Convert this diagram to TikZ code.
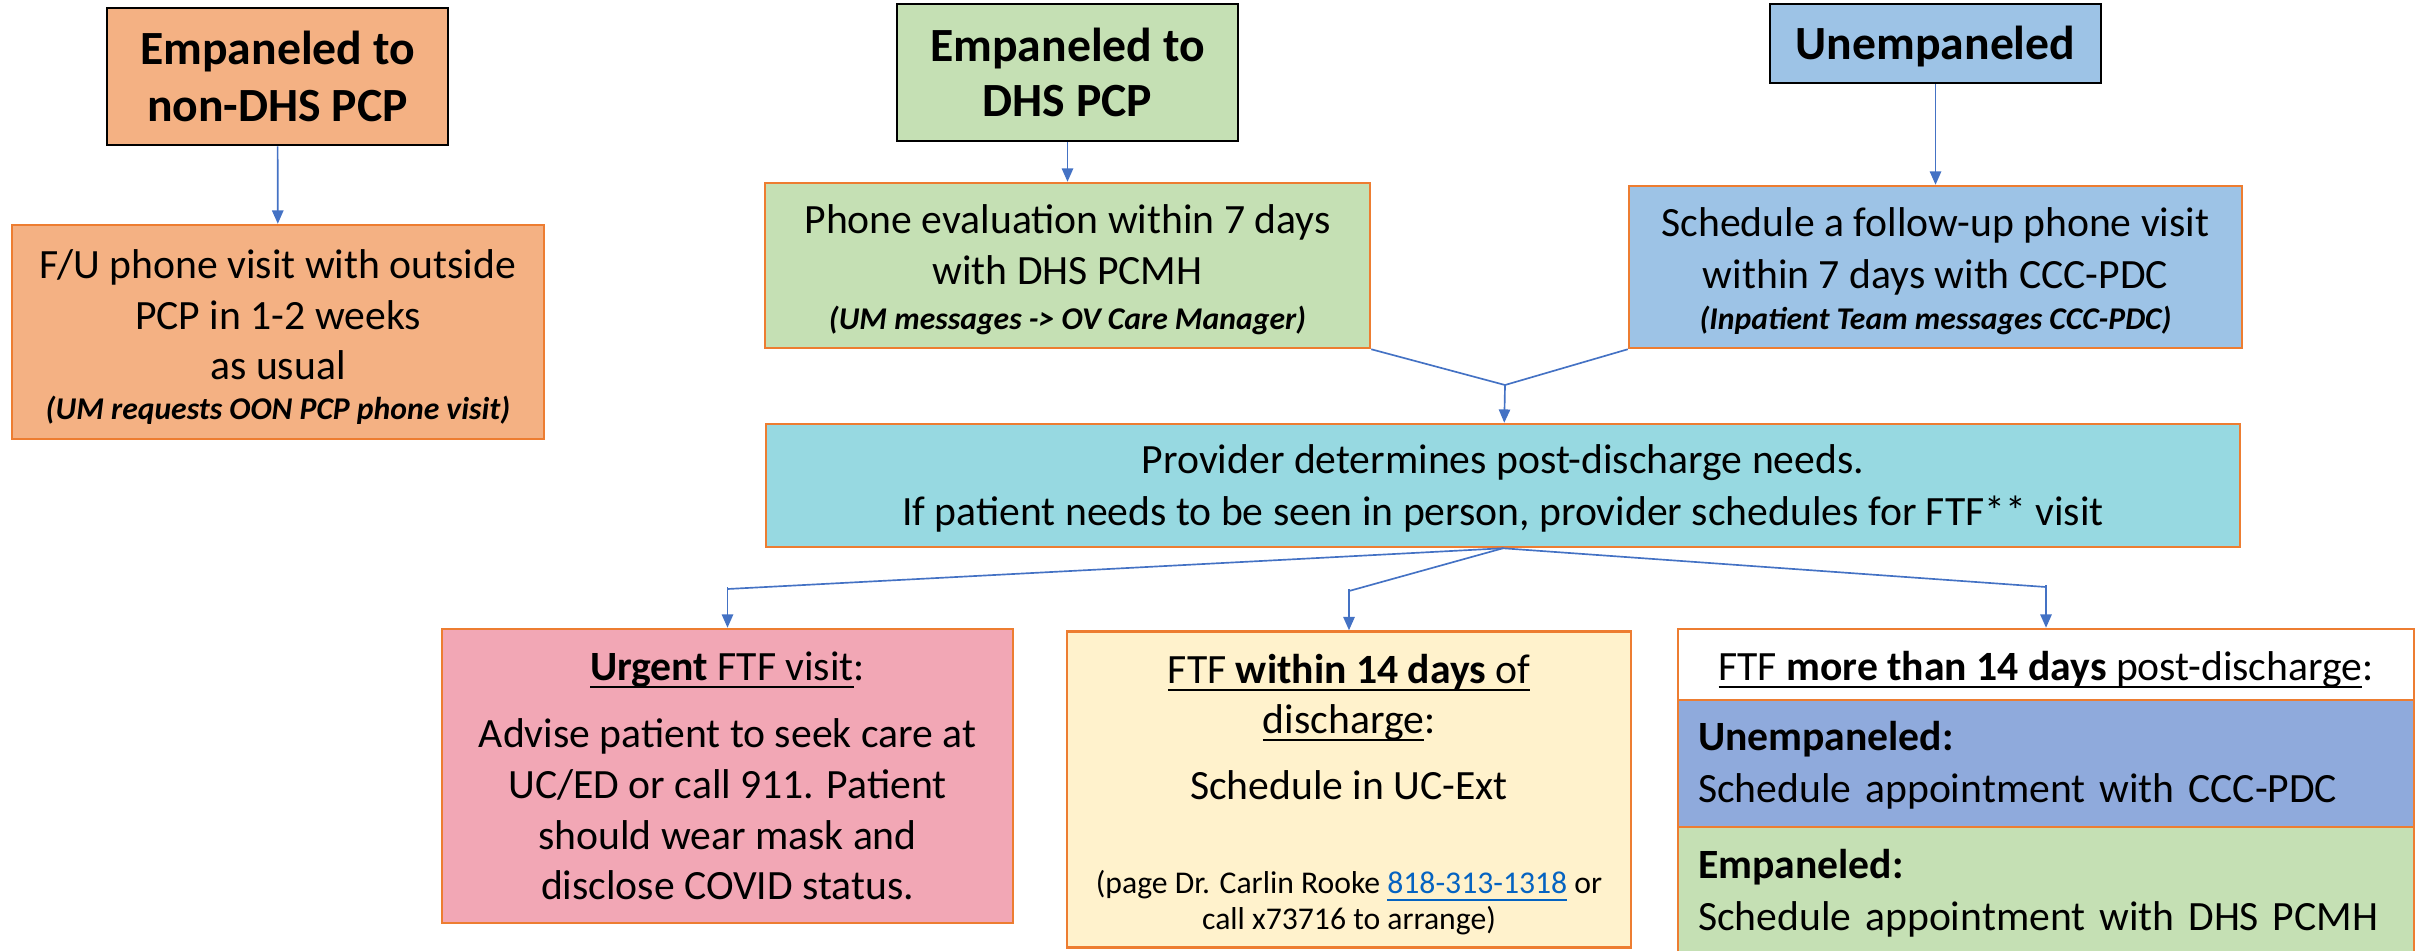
\documentclass[tikz,border=0pt]{standalone}
\usepackage{fontspec}
\setmainfont{Carlito}
\usetikzlibrary{arrows.meta}

\definecolor{peach}{HTML}{F4B183}
\definecolor{sage}{HTML}{C5E0B4}
\definecolor{sky}{HTML}{9DC3E6}
\definecolor{aqua}{HTML}{97D9E1}
\definecolor{rose}{HTML}{F2A7B5}
\definecolor{cream}{HTML}{FFF2CC}
\definecolor{slate}{HTML}{8FAADC}
\definecolor{rim}{HTML}{ED7D31}
\definecolor{wire}{HTML}{4472C4}
\definecolor{weblink}{HTML}{0563C1}

\newsavebox{\ulinebox}
\newcommand{\uln}[1]{\sbox\ulinebox{#1}\rlap{\rule[-2.3pt]{\wd\ulinebox}{0.6pt}}\usebox\ulinebox}
\newcommand{\note}[1]{{\fontsize{9.5}{11.4}\selectfont\bfseries\itshape #1}}
\newcommand{\fine}[1]{{\fontsize{9.5}{11.4}\selectfont #1}}
\newcommand{\topgap}[1]{\rule{0pt}{#1}}

\tikzset{
  headbox/.style={draw=black, line width=0.8pt, inner sep=0pt, align=center,
    font=\fontsize{14.3}{17.1}\selectfont\bfseries},
  stepbox/.style={draw=rim, line width=0.75pt, inner sep=0pt, align=center,
    font=\fontsize{12.5}{15.2}\selectfont},
  wirel/.style={draw=wire, line width=0.5pt},
  wirea/.style={wirel, -{Triangle[length=4pt,width=3.4pt]}}
}

\begin{document}
\begin{tikzpicture}[x=0.3pt,y=0.3pt,yscale=-1,xscale=1]
\useasboundingbox (0,0) rectangle (2431,950);

%Top row
\node [headbox, fill=peach, minimum width=102.3pt, minimum height=41.1pt] (nondhs) at (277.5,76.5) {Empaneled to\\non-DHS PCP};
\node [headbox, fill=sage, minimum width=102.3pt, minimum height=41.1pt] (dhspcp) at (1067.5,72.5) {Empaneled to\\[-0.6pt]DHS PCP};
\node [headbox, fill=sky, minimum width=99.3pt, minimum height=23.7pt] (unemp) at (1935.5,43.5) {\topgap{11.7pt}Unempaneled};

%Phone visits
\node [stepbox, fill=peach, minimum width=159.6pt, minimum height=64.2pt] (outside) at (278,332) {\topgap{11.7pt}F/U phone visit with outside\\PCP in 1-2 weeks\\as usual\\[-3.2pt]\note{(UM requests OON PCP phone visit)}};
\node [stepbox, fill=sage, minimum width=181.5pt, minimum height=49.5pt] (phoneeval) at (1067.5,265.5) {\topgap{11pt}Phone evaluation within 7 days\\with DHS PCMH\\[-1.7pt]\note{(UM messages -> OV Care Manager)}};
\node [stepbox, fill=sky, minimum width=183.9pt, minimum height=48.6pt] (followup) at (1935.5,267) {\topgap{11pt}Schedule a follow-up phone visit\\[0.4pt]within 7 days with CCC-PDC\\[-2.9pt]\note{(Inpatient Team messages CCC-PDC)}};

%Provider
\node [stepbox, fill=aqua, minimum width=442.2pt, minimum height=36.9pt] (provider) at (1503,485.5) {\topgap{10.6pt}Provider determines post-discharge needs.\\[0.4pt]If patient needs to be seen in person, provider schedules for FTF** visit};

%Bottom row
\node [stepbox, fill=rose, minimum width=171.3pt, minimum height=88.2pt] (urgent) at (727.5,776) {\uln{\textbf{Urgent} FTF visit}:\\[5pt]Advise patient to seek care at\\UC/ED or call 911. Patient\\should wear mask and\\disclose COVID status.};
\node [stepbox, fill=cream, minimum width=169.2pt, minimum height=94.8pt] (within) at (1349,789.5) {\topgap{12pt}\uln{FTF \textbf{within 14 days} of}\\[-0.2pt]\uln{discharge}:\\[4.6pt]Schedule in UC-Ext\\[13pt]\fine{(page Dr. Carlin Rooke \textcolor{weblink}{\uln{818-313-1318}} or}\\[-4.4pt]\fine{call x73716 to arrange)}};
\node [stepbox, fill=white, minimum width=220.8pt, minimum height=21.3pt] (later) at (2046,664.5) {\topgap{11.9pt}\uln{FTF \textbf{more than 14 days} post-discharge}:};
\node [stepbox, fill=slate, minimum width=220.8pt, minimum height=38.1pt, text width=208.8pt, align=left] (laterun) at (2046,763.5) {\topgap{10.1pt}\textbf{Unempaneled:}\\[0.4pt]Schedule appointment with CCC-PDC};
\node [stepbox, fill=sage, minimum width=220.8pt, minimum height=38.4pt, text width=208.8pt, align=left] (laterem) at (2046,891) {\topgap{10.4pt}\textbf{Empaneled:}\\[0.4pt]Schedule appointment with DHS PCMH};

%Connectors
\coordinate (merge) at (1505,385);
\coordinate (fork) at (provider.south);
\coordinate (bu) at (urgent.north |- 0,589);
\coordinate (bw) at (within.north |- 0,591);
\coordinate (bl) at (later.north |- 0,587);

\draw [wirea] (nondhs) -- (outside);
\draw [wirea] (dhspcp) -- (phoneeval);
\draw [wirea] (unemp) -- (followup);
\draw [wirel] (phoneeval.south east) -- (merge);
\draw [wirel] (followup.south west) -- (merge);
\draw [wirea] (merge) -- (provider);
\foreach \b/\t in {bu/urgent, bw/within, bl/later}{
  \draw [wirel] (fork) -- (\b);
  \draw [wirea] ([yshift=-0.6pt]\b) -- (\t.north);
}

\end{tikzpicture}
\end{document}
